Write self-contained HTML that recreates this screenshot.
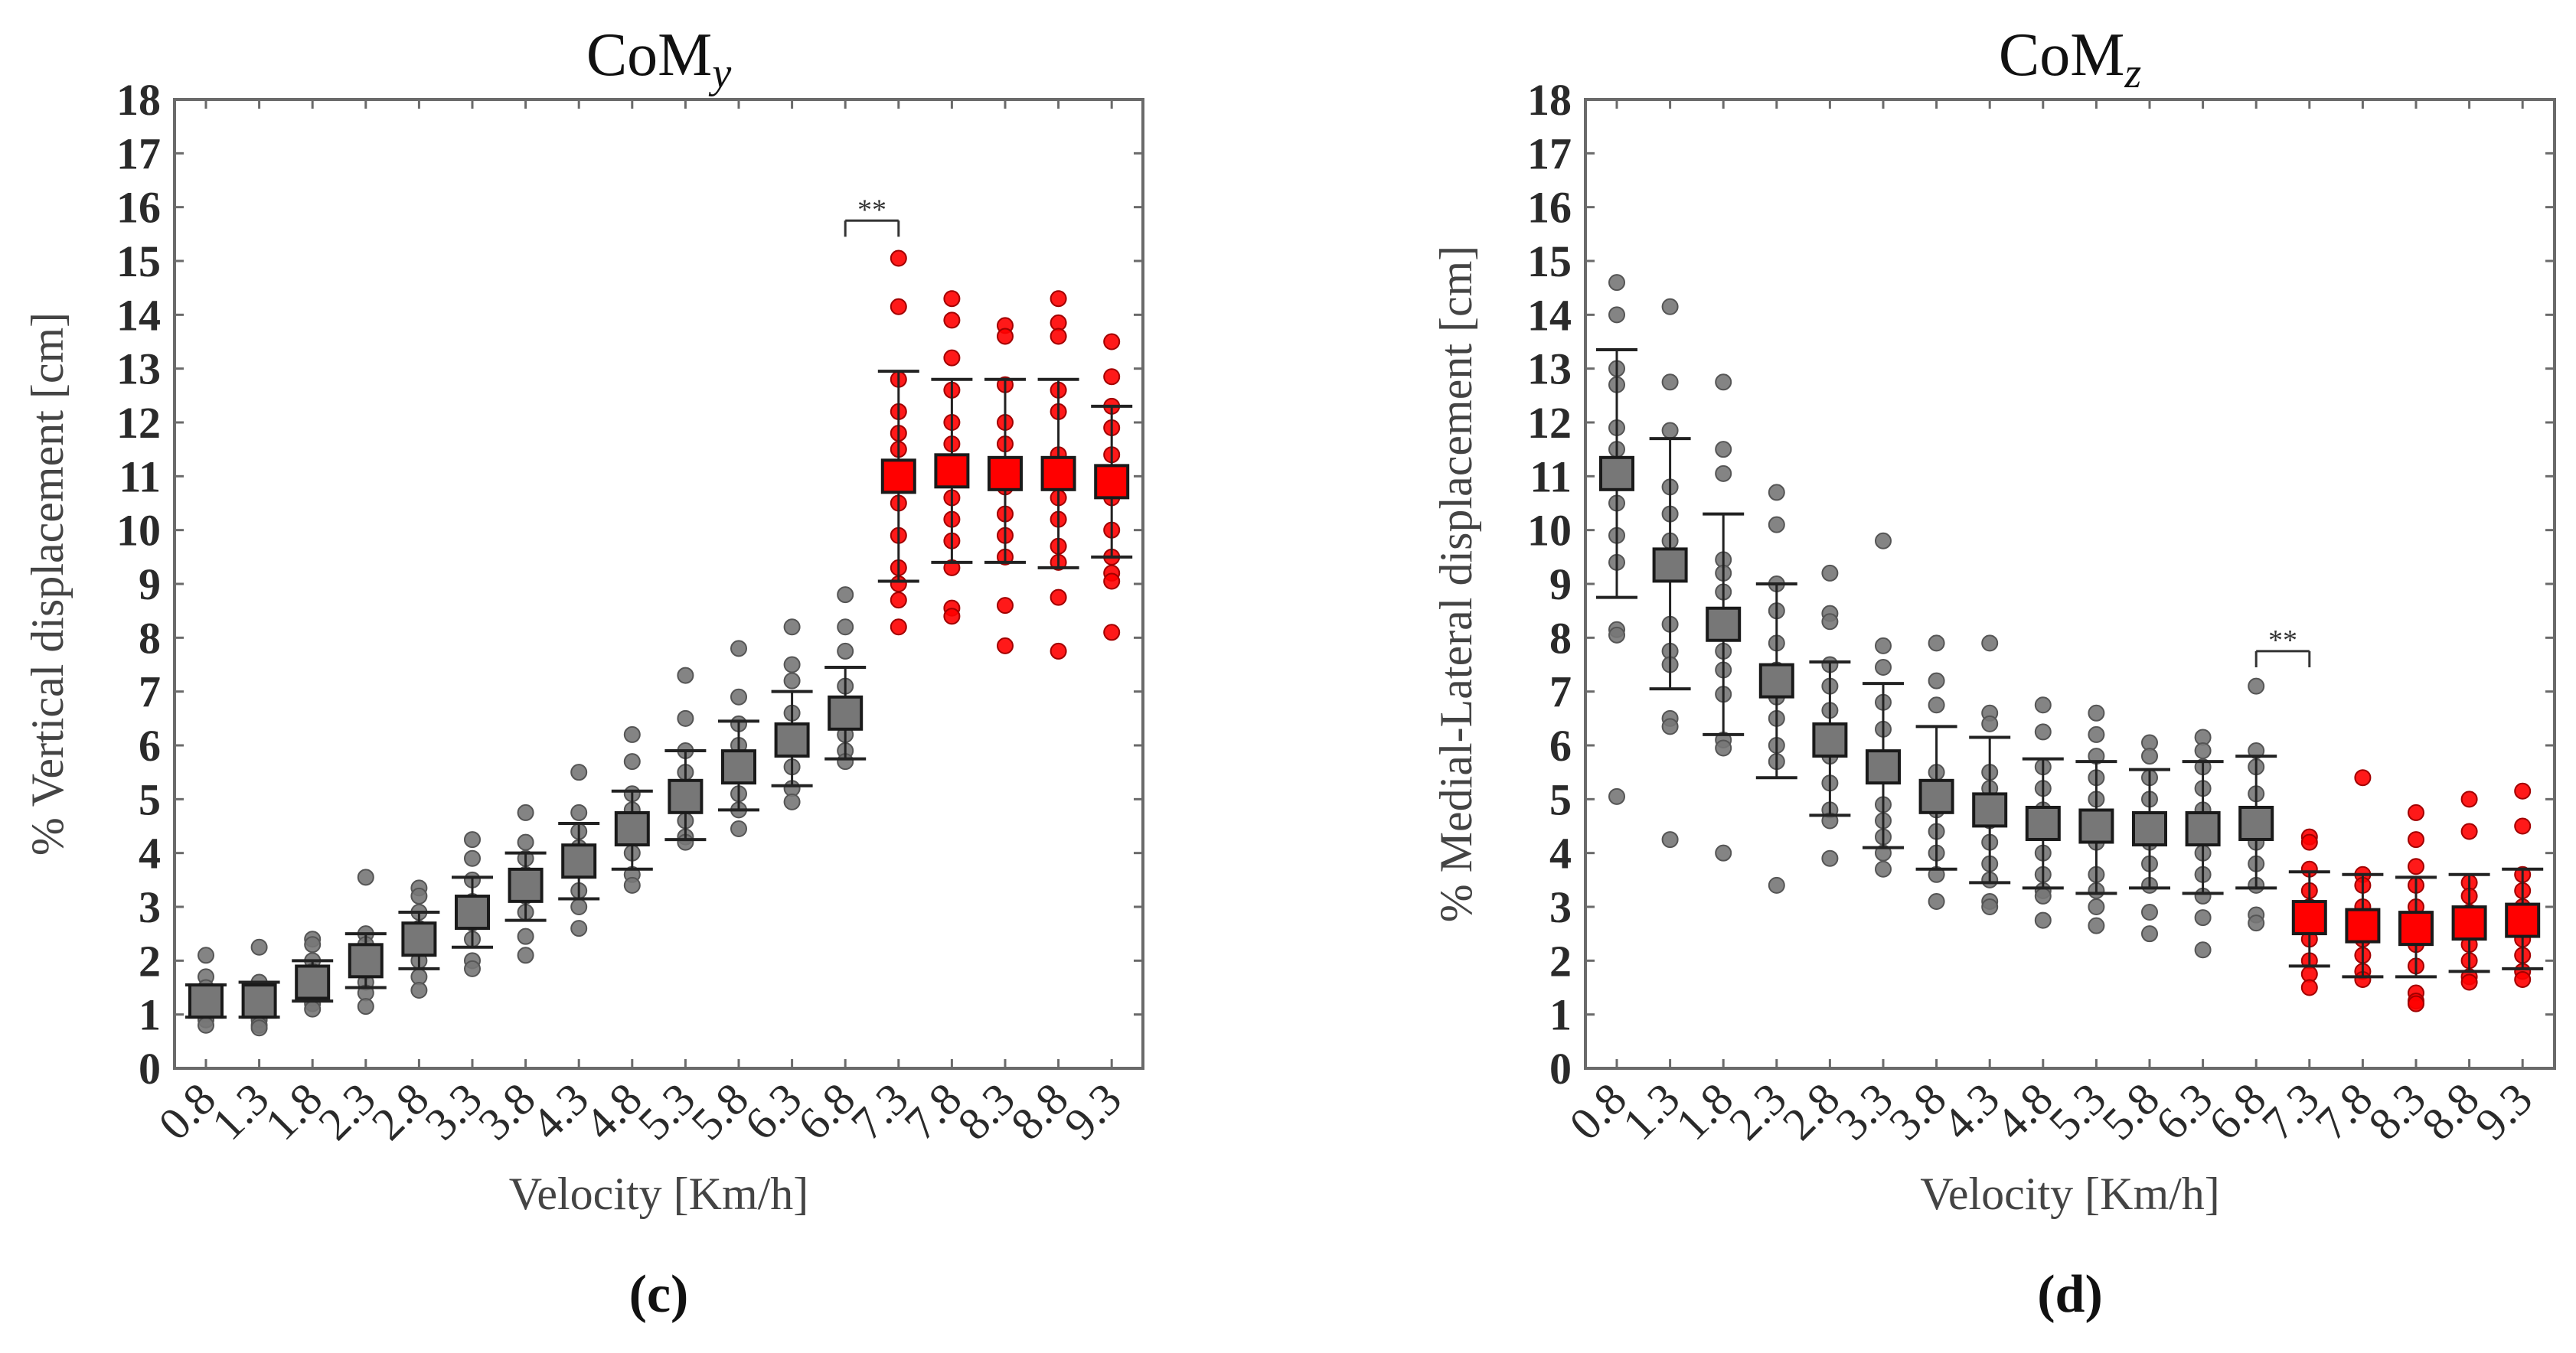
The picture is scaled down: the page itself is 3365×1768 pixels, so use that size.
<!DOCTYPE html>
<html><head><meta charset="utf-8"><style>
html,body{margin:0;padding:0;background:#fff;}
svg{display:block;font-family:"Liberation Serif",serif;}
</style></head>
<body>
<svg id="fig" width="3365" height="1768" viewBox="0 0 3365 1768"></svg>
<script>
const categories=["0.8","1.3","1.8","2.3","2.8","3.3","3.8","4.3","4.8","5.3","5.8","6.3","6.8","7.3","7.8","8.3","8.8","9.3"];
const yTicks=[0,1,2,3,4,5,6,7,8,9,10,11,12,13,14,15,16,17,18];
const redFrom=13;
// Panel c (CoM_y)
const meanY=[1.25,1.25,1.6,2.0,2.4,2.9,3.4,3.85,4.45,5.05,5.6,6.1,6.6,11.0,11.1,11.05,11.05,10.9];
const upY=[1.55,1.6,2.0,2.5,2.9,3.55,4.0,4.55,5.15,5.9,6.45,7.0,7.45,12.95,12.8,12.8,12.8,12.3];
const loY=[0.95,0.95,1.25,1.5,1.85,2.25,2.75,3.15,3.7,4.25,4.8,5.25,5.75,9.05,9.4,9.4,9.3,9.5];
const dotsY=[
[2.1,1.7,1.5,1.3,1.1,1.0,0.9,0.8],
[2.25,1.6,1.4,1.2,1.0,0.9,0.8,0.75],
[2.4,2.3,2.0,1.8,1.5,1.3,1.2,1.1],
[3.55,2.5,2.3,2.1,1.8,1.6,1.4,1.15],
[3.35,3.2,2.9,2.6,2.3,2.0,1.7,1.45],
[4.25,3.9,3.5,3.1,2.7,2.4,2.0,1.85],
[4.75,4.2,3.9,3.6,3.2,2.9,2.45,2.1],
[5.5,4.75,4.4,4.1,3.7,3.3,3.0,2.6],
[6.2,5.7,5.1,4.8,4.4,4.0,3.6,3.4],
[7.3,6.5,5.9,5.5,5.0,4.6,4.3,4.2],
[7.8,6.9,6.4,6.0,5.5,5.1,4.8,4.45],
[8.2,7.5,7.2,6.6,6.0,5.6,5.2,4.95],
[8.8,8.2,7.75,7.1,6.6,6.2,5.9,5.7],
[15.05,14.15,12.8,12.2,11.8,11.5,11.0,10.5,9.9,9.3,9.0,8.7,8.2],
[14.3,13.9,13.2,12.6,12.0,11.6,11.1,10.6,10.2,9.8,9.3,8.55,8.4],
[13.8,13.6,12.7,12.0,11.6,11.2,10.8,10.3,9.9,9.5,8.6,7.85],
[14.3,13.85,13.6,12.6,12.2,11.4,11.0,10.6,10.2,9.7,9.4,8.75,7.75],
[13.5,12.85,12.3,11.9,11.4,11.0,10.6,10.0,9.5,9.2,9.05,8.1]];
// Panel d (CoM_z)
const meanZ=[11.05,9.35,8.25,7.2,6.1,5.6,5.05,4.8,4.55,4.5,4.45,4.45,4.55,2.8,2.65,2.6,2.7,2.75];
const upZ=[13.35,11.7,10.3,9.0,7.55,7.15,6.35,6.15,5.75,5.7,5.55,5.7,5.8,3.65,3.6,3.55,3.6,3.7];
const loZ=[8.75,7.05,6.2,5.4,4.7,4.1,3.7,3.45,3.35,3.25,3.35,3.25,3.35,1.9,1.7,1.7,1.8,1.85];
const dotsZ=[
[14.6,14.0,13.0,12.7,11.9,11.5,11.0,10.5,9.9,9.4,8.15,8.05,5.05],
[14.15,12.75,11.85,10.8,10.3,9.8,9.2,8.25,7.75,7.5,6.5,6.35,4.25],
[12.75,11.5,11.05,9.45,9.2,8.85,8.3,7.75,7.4,6.95,6.1,5.95,4.0],
[10.7,10.1,9.0,8.5,7.9,7.4,6.9,6.5,6.0,5.7,3.4],
[9.2,8.45,8.3,7.5,7.1,6.65,6.2,5.8,5.3,4.8,4.6,3.9],
[9.8,7.85,7.45,6.8,6.3,5.6,4.9,4.6,4.3,4.0,3.7],
[7.9,7.2,6.75,5.5,5.2,4.8,4.4,4.0,3.6,3.1],
[7.9,6.6,6.4,5.5,5.2,4.6,4.2,3.8,3.5,3.1,3.0],
[6.75,6.25,5.6,5.2,4.8,4.4,4.0,3.6,3.3,3.2,2.75],
[6.6,6.2,5.8,5.4,5.0,4.6,4.2,3.6,3.3,3.0,2.65],
[6.05,5.8,5.4,5.0,4.6,4.2,3.8,3.4,2.9,2.5],
[6.15,5.9,5.6,5.2,4.8,4.4,4.0,3.6,3.2,2.8,2.2],
[7.1,5.9,5.6,5.1,4.7,4.2,3.8,3.4,2.85,2.7],
[4.3,4.2,3.7,3.3,3.0,2.7,2.4,2.0,1.75,1.5],
[5.4,3.6,3.4,3.0,2.7,2.4,2.1,1.8,1.65],
[4.75,4.25,3.75,3.4,3.0,2.6,2.3,1.9,1.4,1.25,1.2],
[5.0,4.4,3.45,3.2,2.9,2.6,2.3,2.0,1.7,1.6],
[5.15,4.5,3.6,3.3,3.0,2.7,2.4,2.1,1.8,1.65]];
const sigY=[15.75,15.45];
const sigZ=[7.75,7.45];

const NS="http://www.w3.org/2000/svg";
const svg=document.getElementById('fig');
function mk(tag,attrs,parent,text){const e=document.createElementNS(NS,tag);for(const k in attrs)e.setAttribute(k,attrs[k]);if(text!==undefined)e.textContent=text;(parent||svg).appendChild(e);return e;}

function panel(cfg){
  const g=mk('g',{});
  
  
  const L=cfg.left,R=cfg.right,T=130,B=1396;
  const yS=v=>B-(v/18)*(B-T);
  const xS=i=>cfg.x0+i*69.6;
  const box=mk('rect',{x:L,y:T,width:R-L,height:B-T,fill:'none',stroke:'#6a6a6a','stroke-width':4},g);
  
  
  yTicks.forEach(v=>{
    const y=yS(v);
    mk('line',{x1:L,x2:L+12,y1:y,y2:y,stroke:'#6a6a6a','stroke-width':3},g);
    mk('line',{x1:R,x2:R-12,y1:y,y2:y,stroke:'#6a6a6a','stroke-width':3},g);
    const t=mk('text',{x:L-18,y:y+20,'text-anchor':'end','font-size':58,'font-weight':'bold',fill:'#2a2a2a'},g,String(v));
    
    
  });
  categories.forEach((c,i)=>{
    const x=xS(i);
    mk('line',{x1:x,x2:x,y1:B,y2:B-12,stroke:'#6a6a6a','stroke-width':3},g);
    mk('line',{x1:x,x2:x,y1:T,y2:T+12,stroke:'#6a6a6a','stroke-width':3},g);
    const ax=x+16, ay=B+44;
    const t=mk('text',{x:ax,y:ay,'text-anchor':'end','font-size':60,fill:'#2a2a2a',transform:`rotate(-45 ${ax} ${ay})`},g,c);
    
    
  });
  categories.forEach((c,i)=>{
    const x=xS(i), red=i>=redFrom;
    const fill=red?'#ff0000':'#777777', edge=red?'#a00000':'#555555';
    cfg.dots[i].forEach(v=>{
      const d=mk('circle',{cx:x,cy:yS(v),r:10,fill:fill,stroke:edge,'stroke-width':2,'fill-opacity':0.9},g);
      
      
    });
    const eb=mk('line',{x1:x,x2:x,y1:yS(cfg.up[i]),y2:yS(cfg.lo[i]),stroke:'#222','stroke-width':3},g);
    
    
    [cfg.up[i],cfg.lo[i]].forEach(v=>{
      mk('line',{x1:x-27,x2:x+27,y1:yS(v),y2:yS(v),stroke:'#222','stroke-width':4},g);
    });
    const s=mk('rect',{x:x-21,y:yS(cfg.mean[i])-21,width:42,height:42,fill:fill,stroke:'#1a1a1a','stroke-width':4},g);
    
    
  });
  const x1=xS(12),x2=xS(13),yt=yS(cfg.sig[0]),yb=yS(cfg.sig[1]);
  const br=mk('path',{d:`M${x1} ${yb} L${x1} ${yt} M${x1} ${yt} L${x2} ${yt} M${x2} ${yt} L${x2} ${yb}`,stroke:'#333','stroke-width':3,fill:'none'},g);
  
  
  const st=mk('text',{x:(x1+x2)/2,y:yt-2,'text-anchor':'middle','font-size':38,fill:'#333'},g,'**');
  
  
  const cx=(L+R)/2;
  const tt=mk('text',{x:cx,y:98,'text-anchor':'middle','font-size':80,fill:'#111'},g);
  
  
  mk('tspan',{},tt,'CoM');
  mk('tspan',{'font-style':'italic','font-size':56,dy:16},tt,cfg.sub);
  const yl=mk('text',{x:cfg.ylx,y:(T+B)/2,'text-anchor':'middle','font-size':60,fill:'#444',transform:`rotate(-90 ${cfg.ylx} ${(T+B)/2})`},g,cfg.ylabel);
  
  
  const xl=mk('text',{x:cx,y:1580,'text-anchor':'middle','font-size':60,fill:'#444'},g,'Velocity [Km/h]');
  
  
  const pl=mk('text',{x:cx,y:1714,'text-anchor':'middle','font-size':70,'font-weight':'bold',fill:'#111'},g,cfg.panel);
  
  
}
panel({name:'panel-c-com-y',left:228,right:1493,x0:269,mean:meanY,up:upY,lo:loY,dots:dotsY,sig:sigY,sub:'y',ylabel:'% Vertical displacement [cm]',ylx:82,panel:'(c)'});
panel({name:'panel-d-com-z',left:2071,right:3337,x0:2112,mean:meanZ,up:upZ,lo:loZ,dots:dotsZ,sig:sigZ,sub:'z',ylabel:'% Medial-Lateral displacement [cm]',ylx:1922,panel:'(d)'});
</script>
</body></html>
